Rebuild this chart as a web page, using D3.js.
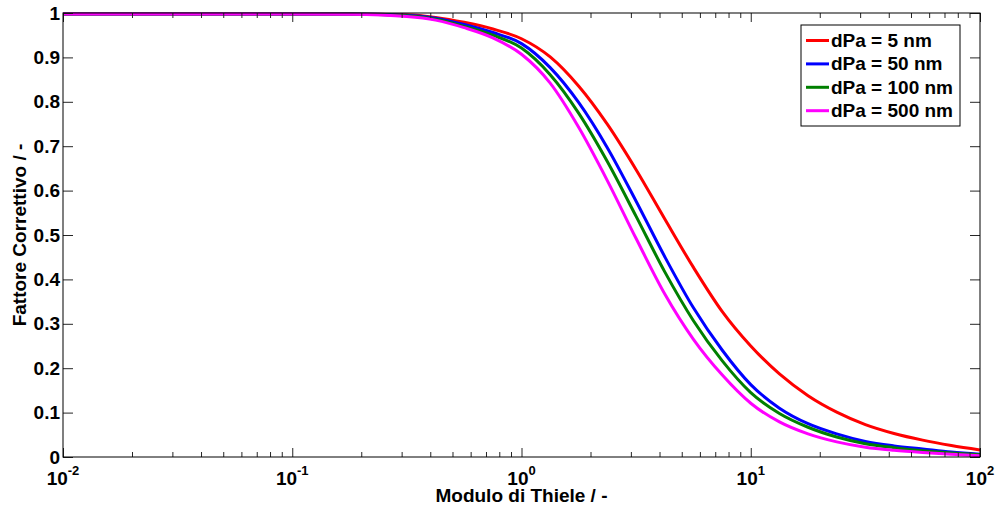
<!DOCTYPE html>
<html>
<head>
<meta charset="utf-8">
<script src="https://cdn.jsdelivr.net/npm/d3@7"></script>
<style>
  html, body { margin: 0; padding: 0; background: #fff; }
  svg { display: block; }
  text { font-family: "Liberation Sans", Arial, sans-serif; font-weight: bold; fill: #000; }
</style>
</head>
<body>
<svg id="chart" width="1000" height="512"></svg>
<script>
// Thiele modulus sample points (log-spaced)
const phi = [0.01, 0.1, 0.178, 0.316, 0.422, 0.562, 0.750, 1, 1.334, 1.778, 2.371, 3.162, 4.217,
             5.623, 7.499, 10, 13.34, 17.78, 23.71, 31.62, 42.17, 56.23, 74.99, 100];

// correction factor for each pore diameter
const eta5   = [0.998, 0.998, 0.998, 0.996, 0.990, 0.979, 0.964, 0.942, 0.901, 0.835, 0.749, 0.647,
                0.536, 0.427, 0.328, 0.250, 0.187, 0.138, 0.101, 0.073, 0.053, 0.038, 0.026, 0.016];
const eta50  = [0.998, 0.998, 0.998, 0.995, 0.988, 0.974, 0.956, 0.931, 0.877, 0.798, 0.696, 0.576,
                0.451, 0.336, 0.241, 0.163, 0.110, 0.075, 0.052, 0.035, 0.025, 0.018, 0.011, 0.006];
const eta100 = [0.998, 0.998, 0.998, 0.994, 0.986, 0.970, 0.950, 0.921, 0.861, 0.774, 0.665, 0.542,
                0.417, 0.307, 0.217, 0.145, 0.098, 0.067, 0.045, 0.030, 0.021, 0.014, 0.009, 0.005];
const eta500 = [0.998, 0.998, 0.997, 0.992, 0.984, 0.967, 0.944, 0.907, 0.842, 0.742, 0.622, 0.492,
                0.367, 0.265, 0.185, 0.121, 0.079, 0.052, 0.034, 0.022, 0.015, 0.010, 0.006, 0.003];

const seriesNames  = ["dPa = 5 nm", "dPa = 50 nm", "dPa = 100 nm", "dPa = 500 nm"];
const seriesValues = [eta5, eta50, eta100, eta500];
const seriesColors = ["#ff0000", "#0000ff", "#008000", "#ff00ff"];

const xMajorTicks = [0.01, 0.1, 1, 10, 100];
const xTickExponents = ["-2", "-1", "0", "1", "2"];
const yTicks = [0, 0.1, 0.2, 0.3, 0.4, 0.5, 0.6, 0.7, 0.8, 0.9, 1];
const yTickLabels = ["0", "0.1", "0.2", "0.3", "0.4", "0.5", "0.6", "0.7", "0.8", "0.9", "1"];

const xTitle = "Modulo di Thiele / -";
const yTitle = "Fattore Correttivo / -";

const L = 63, R = 980, T = 13, B = 457;
const svg = d3.select("#chart");

const x = d3.scaleLog().domain([0.01, 100]).range([L, R]);
const y = d3.scaleLinear().domain([0, 1]).range([B, T]);

// minor decade ticks 2..9
const xMinor = [];
for (let e = -2; e < 2; e++) for (let m = 2; m <= 9; m++) xMinor.push(m * Math.pow(10, e));

// curves
const line = d3.line()
  .x(d => x(d[0]))
  .y(d => y(d[1]))
  .curve(d3.curveMonotoneX);

seriesValues.forEach((vals, i) => {
  svg.append("path")
    .datum(phi.map((p, k) => [p, vals[k]]))
    .attr("fill", "none")
    .attr("stroke", seriesColors[i])
    .attr("stroke-width", 3)
    .attr("stroke-linejoin", "round")
    .attr("d", line);
});

// axes: ticks point inward on all four sides
function styleAxis(g) {
  g.select(".domain").remove();
  g.selectAll(".tick line").attr("stroke", "#262626").attr("stroke-width", 1);
}

svg.append("g").attr("transform", `translate(0,${B})`)
  .call(d3.axisBottom(x).tickValues(xMinor).tickSize(-5).tickFormat(""))
  .call(styleAxis);
svg.append("g").attr("transform", `translate(0,${B})`)
  .call(d3.axisBottom(x).tickValues(xMajorTicks).tickSize(-9).tickFormat(""))
  .call(styleAxis);
svg.append("g").attr("transform", `translate(0,${T})`)
  .call(d3.axisTop(x).tickValues(xMinor).tickSize(-5).tickFormat(""))
  .call(styleAxis);
svg.append("g").attr("transform", `translate(0,${T})`)
  .call(d3.axisTop(x).tickValues(xMajorTicks).tickSize(-9).tickFormat(""))
  .call(styleAxis);

const yAxisG = svg.append("g").attr("transform", `translate(${L},0)`)
  .call(d3.axisLeft(y).tickValues(yTicks).tickSize(-10).tickPadding(3)
    .tickFormat((d, i) => yTickLabels[i]))
  .call(styleAxis);
yAxisG.selectAll(".tick text")
  .attr("font-size", 19)
  .attr("font-family", "Liberation Sans, Arial, sans-serif")
  .attr("font-weight", "bold")
  .attr("fill", "#000");

svg.append("g").attr("transform", `translate(${R},0)`)
  .call(d3.axisRight(y).tickValues(yTicks).tickSize(-10).tickFormat(""))
  .call(styleAxis);

// box
svg.append("rect")
  .attr("x", L).attr("y", T)
  .attr("width", R - L).attr("height", B - T)
  .attr("fill", "none").attr("stroke", "#000").attr("stroke-width", 1);

// x tick labels with exponents
xMajorTicks.forEach((v, i) => {
  const t = svg.append("text")
    .attr("x", x(v)).attr("y", 484.5)
    .attr("text-anchor", "middle")
    .attr("font-size", 19);
  t.append("tspan").text("10");
  t.append("tspan").attr("dy", -10).attr("font-size", 13).text(xTickExponents[i]);
});

// axis titles
svg.append("text")
  .attr("x", (L + R) / 2).attr("y", 502)
  .attr("text-anchor", "middle")
  .attr("font-size", 19)
  .text(xTitle);

svg.append("text")
  .attr("transform", `translate(26,${(T + B) / 2}) rotate(-90)`)
  .attr("text-anchor", "middle")
  .attr("font-size", 19)
  .text(yTitle);

// legend
const lg = svg.append("g");
lg.append("rect")
  .attr("x", 801).attr("y", 25).attr("width", 159).attr("height", 101)
  .attr("fill", "#fff").attr("stroke", "#000").attr("stroke-width", 1);
seriesNames.forEach((name, i) => {
  const cy = 40.5 + i * 23.4;
  lg.append("line")
    .attr("x1", 806).attr("x2", 829).attr("y1", cy).attr("y2", cy)
    .attr("stroke", seriesColors[i]).attr("stroke-width", 3);
  lg.append("text")
    .attr("x", 831).attr("y", cy + 6.5)
    .attr("font-size", 19)
    .text(name);
});
</script>
</body>
</html>
